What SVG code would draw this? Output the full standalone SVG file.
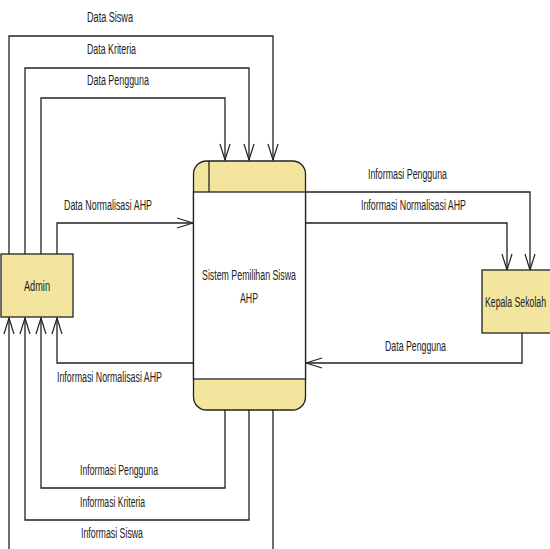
<svg xmlns="http://www.w3.org/2000/svg" width="550" height="549" viewBox="0 0 550 549">
<style>
.ln{fill:none;stroke:#222;stroke-width:1.3}
.nd{fill:#F3E59E;stroke:#222;stroke-width:1.3}
.t{font-family:"Liberation Sans",Arial,sans-serif;font-size:14px;fill:#222}
.m{text-anchor:middle}
</style>
<defs>
<marker id="arr" markerUnits="userSpaceOnUse" viewBox="-17 -6 18 12" markerWidth="18" markerHeight="12" refX="0" refY="0" orient="auto">
<path d="M-16,-5 L0,0 L-16,5" fill="none" stroke="#222" stroke-width="1.2"/>
</marker>
</defs>
<rect width="550" height="549" fill="#fff"/>
<g id="connectors">
<polyline class="ln" points="9,254 9,36 273,36 273,160" marker-end="url(#arr)"/>
<polyline class="ln" points="25,254 25,68 249,68 249,160" marker-end="url(#arr)"/>
<polyline class="ln" points="41,254 41,98 225,98 225,160" marker-end="url(#arr)"/>
<polyline class="ln" points="57,254 57,223 193,223" marker-end="url(#arr)"/>
<polyline class="ln" points="193,363 57,363 57,318" marker-end="url(#arr)"/>
<polyline class="ln" points="225,410 225,488 41,488 41,318" marker-end="url(#arr)"/>
<polyline class="ln" points="249,410 249,520 25,520 25,318" marker-end="url(#arr)"/>
<polyline class="ln" points="273,410 273,560 9,560 9,318" marker-end="url(#arr)"/>
<polyline class="ln" points="305,192 530,192 530,270" marker-end="url(#arr)"/>
<polyline class="ln" points="305,223 507,223 507,270" marker-end="url(#arr)"/>
<polyline class="ln" points="522,333 522,363 306,363" marker-end="url(#arr)"/>
<text class="t" x="87" y="22" textLength="46" lengthAdjust="spacingAndGlyphs">Data Siswa</text>
<text class="t" x="87" y="54" textLength="49" lengthAdjust="spacingAndGlyphs">Data Kriteria</text>
<text class="t" x="87" y="85" textLength="62" lengthAdjust="spacingAndGlyphs">Data Pengguna</text>
<text class="t" x="64" y="210" textLength="88" lengthAdjust="spacingAndGlyphs">Data Normalisasi AHP</text>
<text class="t" x="57" y="382" textLength="105" lengthAdjust="spacingAndGlyphs">Informasi Normalisasi AHP</text>
<text class="t" x="80" y="475" textLength="78" lengthAdjust="spacingAndGlyphs">Informasi Pengguna</text>
<text class="t" x="80" y="507" textLength="65" lengthAdjust="spacingAndGlyphs">Informasi Kriteria</text>
<text class="t" x="81" y="538" textLength="62" lengthAdjust="spacingAndGlyphs">Informasi Siswa</text>
<text class="t" x="368" y="179" textLength="79" lengthAdjust="spacingAndGlyphs">Informasi Pengguna</text>
<text class="t" x="361" y="210" textLength="105" lengthAdjust="spacingAndGlyphs">Informasi Normalisasi AHP</text>
<text class="t" x="385" y="351" textLength="61" lengthAdjust="spacingAndGlyphs">Data Pengguna</text>
</g>
<g id="admin">
<rect class="nd" x="1" y="254" width="72" height="63"/>
<text class="t m" x="37" y="291" textLength="26" lengthAdjust="spacingAndGlyphs">Admin</text>
</g>
<g id="kepala-sekolah">
<rect class="nd" x="482" y="270" width="72" height="63"/>
<text class="t" x="546" y="307" text-anchor="end" textLength="61" lengthAdjust="spacingAndGlyphs">Kepala Sekolah</text>
</g>
<g id="sistem">
<rect class="nd" x="193.5" y="161" width="112" height="249" rx="13" ry="13"/>
<rect x="193.5" y="192" width="112" height="187" fill="#fff" stroke="#222" stroke-width="1.3"/>
<line class="ln" x1="209" y1="161" x2="209" y2="192"/>
<text class="t m" x="249" y="280" textLength="94" lengthAdjust="spacingAndGlyphs">Sistem Pemilihan Siswa</text>
<text class="t m" x="249" y="303" textLength="18" lengthAdjust="spacingAndGlyphs">AHP</text>
</g>
</svg>
